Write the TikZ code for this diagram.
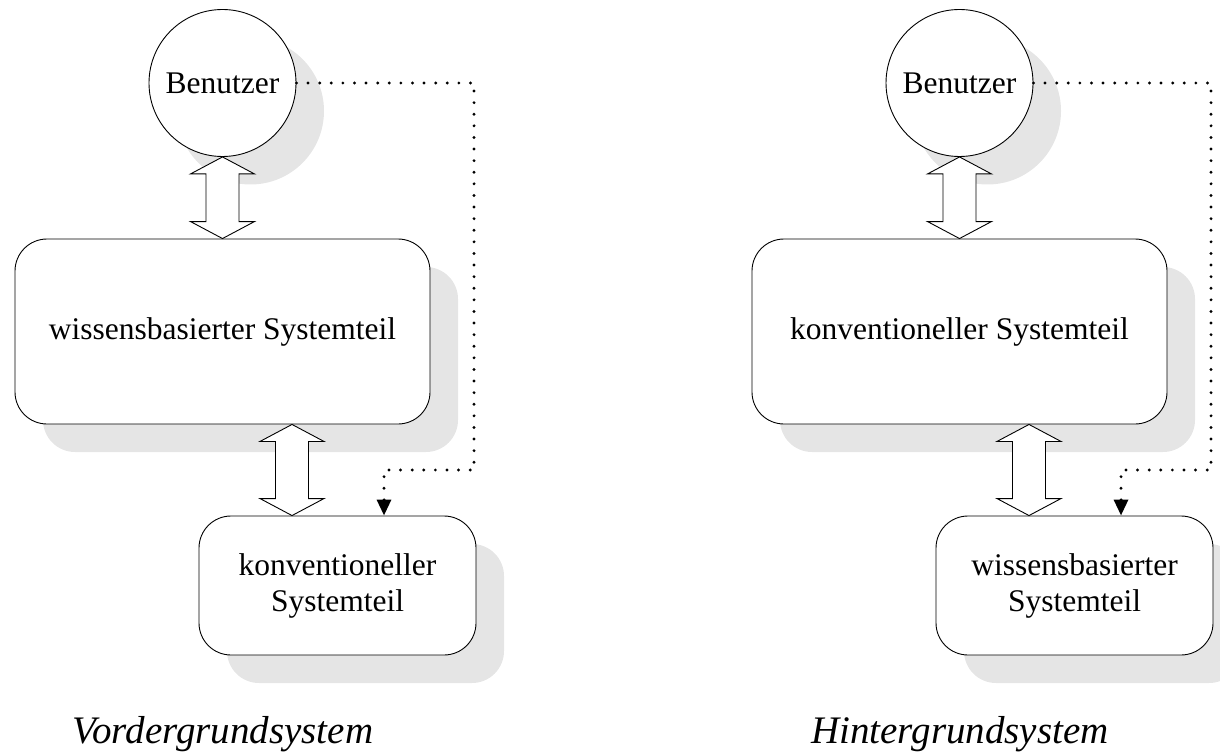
\documentclass[tikz,border=0pt]{standalone}
\usepackage{fontspec}
\setmainfont{Liberation Serif}
\usetikzlibrary{calc,shadows,arrows.meta}

\definecolor{shadowgray}{gray}{0.90}

\tikzset{
  boxshadow/.style={drop shadow={shadow xshift=28pt, shadow yshift=-28pt,
      fill=shadowgray, opacity=1}},
  usernode/.style={circle, draw, line width=0.9pt, fill=white, inner sep=0pt,
      minimum size=147pt, boxshadow, font=\fontsize{31.5}{36}\selectfont},
  partbox/.style={rectangle, rounded corners=32pt, draw, line width=0.9pt,
      fill=white, boxshadow, align=center,
      font=\fontsize{31.5}{36}\selectfont},
  bigpart/.style={partbox, minimum width=415pt, minimum height=185pt},
  smallpart/.style={partbox, minimum width=277pt, minimum height=139pt},
  fatarrow/.style={draw, line width=0.9pt, fill=white, line join=miter},
  dotconn/.style={line width=3.2pt, line cap=round,
      dash pattern=on 0pt off 11.6pt,
      -{Triangle[length=16pt,width=14pt]}},
  caption/.style={font=\fontsize{39}{42}\selectfont\itshape, anchor=base}
}

% hollow two-headed arrow between two points stacked vertically
\newcommand\fatlink[2]{%
  \draw[fatarrow] (#1) -- ($(#1)+(32,17)$) -- ($(#1)+(16.5,17)$)
    -- ($(#2)+(16.5,-17)$) -- ($(#2)+(32,-17)$) -- (#2)
    -- ($(#2)+(-32,-17)$) -- ($(#2)+(-16.5,-17)$)
    -- ($(#1)+(-16.5,17)$) -- ($(#1)+(-32,17)$) -- cycle;}

\begin{document}
\begin{tikzpicture}[x=1pt, y=-1pt]
\useasboundingbox (0,0) rectangle (1220,754);
\clip (0,0) rectangle (1220,754);

% ---------- front-end system ----------
\node[usernode] (ua) at (222.5,83) {Benutzer};
\node[bigpart] (wa) at (222.5,331.5) {wissensbasierter Systemteil};
\node[smallpart] (ka) at (337.5,585.5) {konventioneller\\Systemteil};

\fatlink{ua.south}{wa.north}
\coordinate (wa-out) at ($(wa.south)+(69.5,0)$);
\coordinate (ka-in)  at ($(ka.north)+(-45.5,0)$);
\fatlink{wa-out}{ka-in}

\coordinate (da) at (474,470);
\coordinate (ka-dot) at ($(ka.north)+(46.5,0)$);
\draw[dotconn] (ua.east) -| (da) -| (ka-dot);

\node[caption] (capa) at (223,743) {Vordergrundsystem};

% ---------- back-end system ----------
\node[usernode] (ub) at (959.5,83) {Benutzer};
\node[bigpart] (wb) at (959.5,331.5) {konventioneller Systemteil};
\node[smallpart] (kb) at (1074.5,585.5) {wissensbasierter\\Systemteil};

\fatlink{ub.south}{wb.north}
\coordinate (wb-out) at ($(wb.south)+(69.5,0)$);
\coordinate (kb-in)  at ($(kb.north)+(-45.5,0)$);
\fatlink{wb-out}{kb-in}

\coordinate (db) at (1211,470);
\coordinate (kb-dot) at ($(kb.north)+(46.5,0)$);
\draw[dotconn] (ub.east) -| (db) -| (kb-dot);

\node[caption] (capb) at (960,743) {Hintergrundsystem};
\end{tikzpicture}
\end{document}
